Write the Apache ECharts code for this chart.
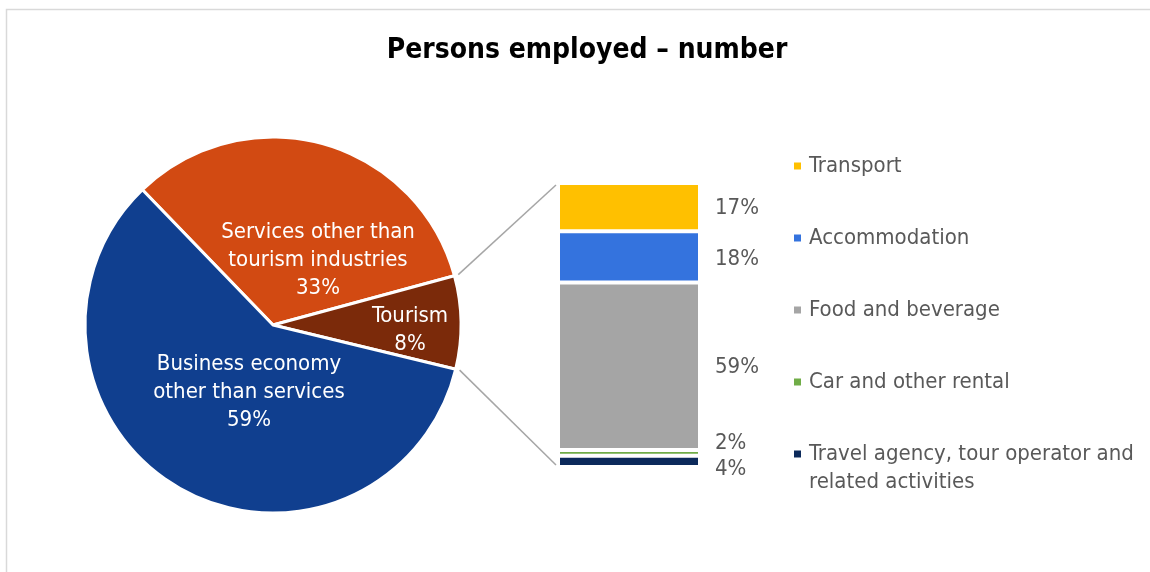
<!DOCTYPE html>
<html>
<head>
<meta charset="utf-8">
<script src="https://cdn.jsdelivr.net/npm/echarts@6/dist/echarts.min.js"></script>
<style>
  html, body { margin: 0; padding: 0; background: #ffffff; }
  #chart { width: 1150px; height: 572px; }
</style>
</head>
<body>
<div id="chart"></div>
<script>
// Share of persons employed in the business economy
const pieNames = ['Services other than\ntourism industries', 'Tourism', 'Business economy\nother than services'];
const pieValues = [33, 8, 59];
const pieColors = ['#D24A12', '#7B2A0A', '#103F8F'];

// Breakdown of the tourism share by industry
const barNames = ['Transport', 'Accommodation', 'Food and beverage', 'Car and other rental', 'Travel agency, tour operator and\nrelated activities'];
const barValues = [17, 18, 59, 2, 4];
const barColors = ['#FFC000', '#3473DE', '#A5A5A5', '#70AD47', '#0C2A5B'];

const FONT = 'DejaVu Sans Condensed';
const pieCenter = [273, 325];
const pieRadius = 188;
const pieStart = 134;
const grid = { left: 558, top: 183, width: 142, height: 284 };

// label anchors for the pie slices, relative to the pie centre
const pieLabelAt = [[45, -65], [137, 5], [-24, 67]];
// vertical nudges for the two thin bar segments
const barLabelShift = [1, 2, 1, -10, 8];

const chart = echarts.init(document.getElementById('chart'), null, { renderer: 'canvas' });

// stacked bar series, bottom segment first
const barSeries = [];
for (let i = barNames.length - 1; i >= 0; i--) {
  barSeries.push({
    name: barNames[i],
    type: 'bar',
    stack: 'tourism',
    barWidth: '100%',
    data: [barValues[i]],
    itemStyle: { color: barColors[i], borderColor: '#ffffff', borderWidth: 2 },
    label: {
      show: true,
      position: 'right',
      distance: 15,
      offset: [0, barLabelShift[i]],
      formatter: '{c}%',
      color: '#595959',
      fontFamily: FONT,
      fontSize: 22
    }
  });
}

const legendText = { color: '#595959', fontFamily: FONT, fontSize: 22, lineHeight: 28, padding: [0, 0, 0, 2] };

chart.setOption({
  backgroundColor: '#ffffff',
  animation: false,
  title: {
    text: 'Persons employed – number',
    left: 582,
    textAlign: 'center',
    top: 32,
    textStyle: { fontFamily: FONT, fontWeight: 'bold', fontSize: 28, color: '#000000' }
  },
  legend: [
    {
      orient: 'vertical',
      left: 792,
      top: 152,
      padding: 0,
      itemGap: 44,
      itemWidth: 9,
      itemHeight: 9,
      icon: 'rect',
      selectedMode: false,
      data: barNames.slice(0, 4),
      textStyle: legendText
    },
    {
      // two-line entry: a leading blank line keeps the marker beside the first line
      orient: 'vertical',
      left: 792,
      top: 412,
      padding: 0,
      itemWidth: 9,
      itemHeight: 9,
      icon: 'rect',
      selectedMode: false,
      data: barNames.slice(4),
      formatter: function (name) { return ' \n' + name; },
      textStyle: legendText
    }
  ],
  grid: grid,
  xAxis: { type: 'category', data: ['Tourism'], show: false },
  yAxis: { type: 'value', min: 0, max: 100, show: false },
  series: [
    {
      type: 'pie',
      center: pieCenter,
      radius: pieRadius,
      startAngle: pieStart,
      clockwise: true,
      data: pieNames.map((n, i) => ({ name: n, value: pieValues[i], itemStyle: { color: pieColors[i] } })),
      itemStyle: { borderColor: '#ffffff', borderWidth: 3 },
      label: {
        show: true,
        position: 'inside',
        formatter: '{b}\n{c}%',
        color: '#ffffff',
        fontFamily: FONT,
        fontSize: 22,
        lineHeight: 28,
        align: 'center',
        verticalAlign: 'middle'
      },
      labelLayout: function (p) {
        const s = pieLabelAt[p.dataIndex];
        return { x: pieCenter[0] + s[0], y: pieCenter[1] + s[1], align: 'center', verticalAlign: 'middle' };
      },
      emphasis: { disabled: true }
    }
  ].concat(barSeries)
});

// connector lines from the tourism slice edges to the bar corners
function edgePoint(angleDeg, r) {
  const a = angleDeg * Math.PI / 180;
  return [pieCenter[0] + r * Math.cos(a), pieCenter[1] - r * Math.sin(a)];
}
const total = pieValues.reduce((a, b) => a + b, 0);
const tourismStart = pieStart - pieValues[0] / total * 360;
const tourismEnd = tourismStart - pieValues[1] / total * 360;
const topY = chart.convertToPixel({ gridIndex: 0 }, [0, 100])[1];
const botY = chart.convertToPixel({ gridIndex: 0 }, [0, 0])[1];
const p1 = edgePoint(tourismStart, pieRadius + 4);
const p2 = edgePoint(tourismEnd, pieRadius + 4);
const lineStyle = { stroke: '#A6A6A6', lineWidth: 1.5 };

chart.setOption({
  graphic: [
    { type: 'rect', shape: { x: 6.5, y: 9.5, width: 1200, height: 700 }, style: { fill: null, stroke: '#D9D9D9', lineWidth: 1.5 }, silent: true, z: -1 },
    { type: 'line', shape: { x1: p1[0], y1: p1[1], x2: grid.left - 2, y2: topY + 2 }, style: lineStyle, silent: true },
    { type: 'line', shape: { x1: p2[0], y1: p2[1], x2: grid.left - 2, y2: botY - 2 }, style: lineStyle, silent: true }
  ]
});
</script>
</body>
</html>
